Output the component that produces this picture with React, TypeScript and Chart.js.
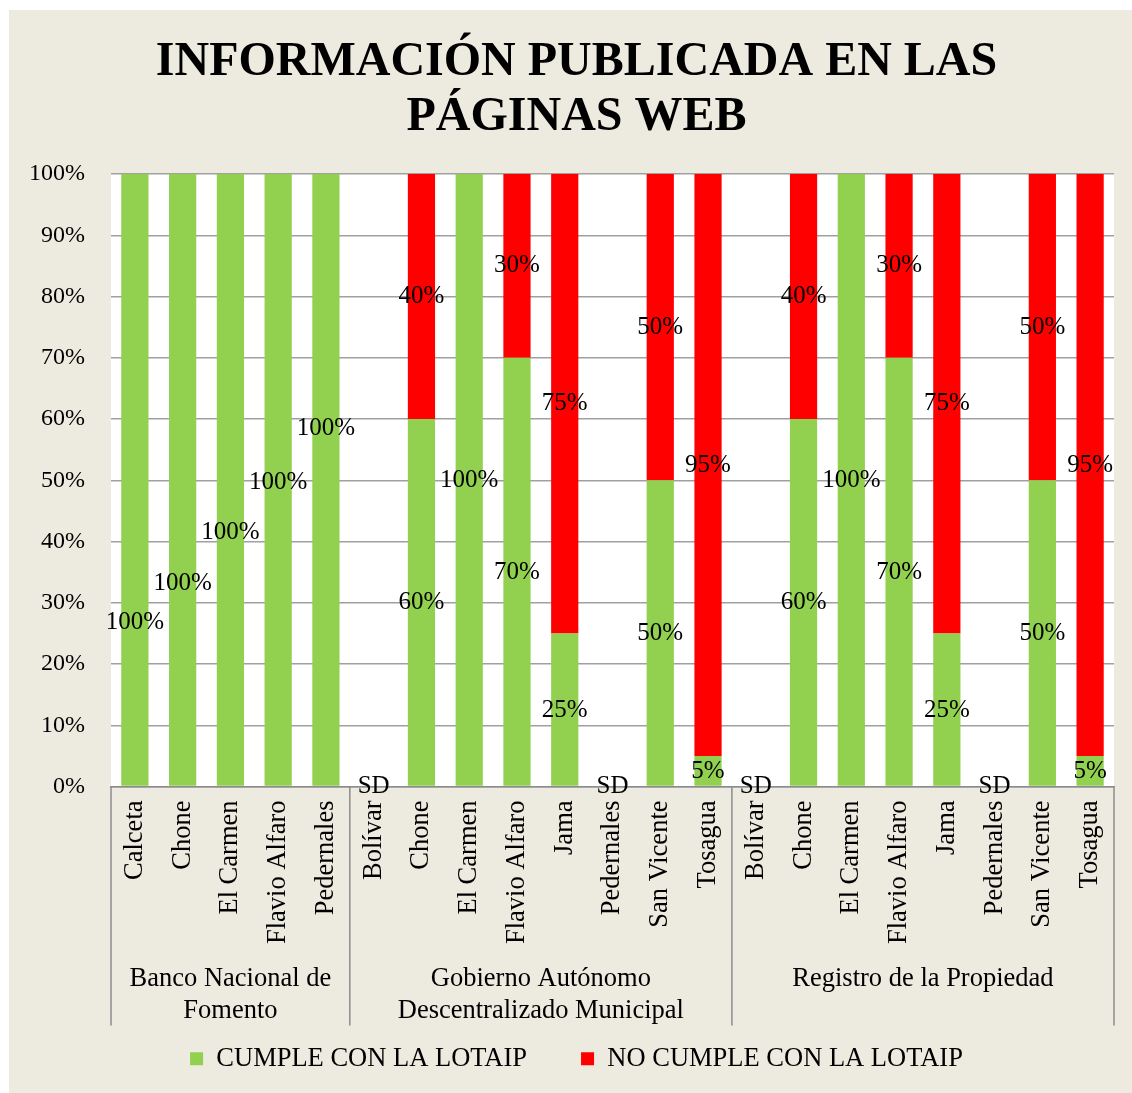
import React, { useEffect, useRef } from "react";
import { Chart, registerables } from "chart.js";

Chart.register(...registerables);

const categories = [
  "Calceta", "Chone", "El Carmen", "Flavio Alfaro", "Pedernales",
  "Bolívar", "Chone", "El Carmen", "Flavio Alfaro", "Jama", "Pedernales", "San Vicente", "Tosagua",
  "Bolívar", "Chone", "El Carmen", "Flavio Alfaro", "Jama", "Pedernales", "San Vicente", "Tosagua",
];
const groupLabels = [
  ["Banco Nacional de", "Fomento"],
  ["Gobierno Autónomo", "Descentralizado Municipal"],
  ["Registro de la Propiedad"],
];
const groupSizes = [5, 8, 8];

const cumple: (number | null)[] = [
  100, 100, 100, 100, 100,
  null, 60, 100, 70, 25, null, 50, 5,
  null, 60, 100, 70, 25, null, 50, 5,
];
const noCumple: (number | null)[] = [
  0, 0, 0, 0, 0,
  null, 40, 0, 30, 75, null, 50, 95,
  null, 40, 0, 30, 75, null, 50, 95,
];
// where the "cumple" labels sit (value on the y scale); null = centre of segment
const cumpleLabelAt: (number | null)[] = [
  26.8, 33.2, 41.5, 49.7, 58.5,
  null, null, null, null, null, null, null, null,
  null, null, null, null, null, null, null, null,
];
const noDataText = "SD";
const seriesNames = ["CUMPLE CON LA LOTAIP", "NO CUMPLE CON LA LOTAIP"];
const titleLines = ["INFORMACIÓN PUBLICADA EN LAS", "PÁGINAS WEB"];
const yTicks = [0, 10, 20, 30, 40, 50, 60, 70, 80, 90, 100];

const SERIF = '"Liberation Serif", "Times New Roman", serif';
const GREEN = "#92D050";
const RED = "#FF0000";
const GRID = "#A0A0A0";

const plotBg = {
  id: "plotBg",
  beforeDraw(chart: any) {
    const { ctx, chartArea } = chart;
    ctx.save();
    ctx.fillStyle = "#FFFFFF";
    ctx.fillRect(chartArea.left, chartArea.top, chartArea.right - chartArea.left, chartArea.bottom - chartArea.top);
    ctx.restore();
  },
};

const labelsPlugin = {
  id: "barLabels",
  afterDatasetsDraw(chart: any) {
    const { ctx } = chart;
    const xs = chart.scales.x;
    const ys = chart.scales.y;
    ctx.save();
    ctx.font = `25px ${SERIF}`;
    ctx.fillStyle = "#000";
    ctx.textAlign = "center";
    ctx.textBaseline = "middle";
    categories.forEach((_, i) => {
      const px = xs.getPixelForValue(i);
      const c = cumple[i];
      const n = noCumple[i];
      if (c === null && n === null) {
        ctx.fillText(noDataText, px, ys.getPixelForValue(0));
        return;
      }
      if (c !== null && c > 0) {
        const at = cumpleLabelAt[i] ?? c / 2;
        ctx.fillText(`${c}%`, px, ys.getPixelForValue(at));
      }
      if (n !== null && n > 0) {
        ctx.fillText(`${n}%`, px, ys.getPixelForValue((c ?? 0) + n / 2));
      }
    });
    ctx.restore();
  },
};

const groupsPlugin = {
  id: "groups",
  afterDraw(chart: any) {
    const { ctx, chartArea } = chart;
    const xs = chart.scales.x;
    const half = (xs.getPixelForValue(1) - xs.getPixelForValue(0)) / 2;
    const top = chartArea.bottom;
    const bottom = top + 239;
    ctx.save();
    ctx.strokeStyle = "#8C8C8C";
    ctx.lineWidth = 1.5;
    let start = 0;
    const edges: number[] = [xs.getPixelForValue(0) - half];
    groupSizes.forEach((s) => {
      start += s;
      edges.push(xs.getPixelForValue(start - 1) + half);
    });
    edges.forEach((e) => {
      ctx.beginPath();
      ctx.moveTo(e, top);
      ctx.lineTo(e, bottom);
      ctx.stroke();
    });
    ctx.font = `26.5px ${SERIF}`;
    ctx.fillStyle = "#000";
    ctx.textAlign = "center";
    ctx.textBaseline = "middle";
    groupLabels.forEach((lines, g) => {
      const cx = (edges[g] + edges[g + 1]) / 2;
      lines.forEach((t, k) => {
        ctx.fillText(t, cx, top + 193 + k * 32);
      });
    });
    ctx.restore();
  },
};

export default function App() {
  const ref = useRef<HTMLCanvasElement>(null);
  useEffect(() => {
    if (!ref.current) return;
    const chart = new Chart(ref.current, {
      type: "bar",
      data: {
        labels: categories,
        datasets: [
          { label: seriesNames[0], data: cumple, backgroundColor: GREEN, borderWidth: 0, barPercentage: 0.57, categoryPercentage: 1 },
          { label: seriesNames[1], data: noCumple, backgroundColor: RED, borderWidth: 0, barPercentage: 0.57, categoryPercentage: 1 },
        ],
      },
      options: {
        responsive: false,
        animation: false,
        layout: { padding: { left: 30, right: 18, top: 25, bottom: 11 } },
        plugins: {
          title: {
            display: true,
            text: titleLines,
            color: "#000",
            font: { family: SERIF, size: 48, weight: "bold", lineHeight: 1.146 },
            padding: { top: 0, bottom: 29 },
          },
          legend: {
            position: "bottom",
            labels: {
              color: "#000",
              font: { family: SERIF, size: 26.5 },
              boxWidth: 13,
              boxHeight: 13,
              padding: 54,
            },
          },
          tooltip: { enabled: false },
        },
        scales: {
          x: {
            stacked: true,
            grid: { display: false, drawTicks: false },
            border: { display: true, color: "#8C8C8C", width: 1.5 },
            ticks: {
              autoSkip: false,
              maxRotation: 90,
              minRotation: 90,
              padding: 14,
              color: "#000",
              font: { family: SERIF, size: 26.5 },
            },
            afterFit(scale: any) {
              scale.height = 205;
              scale.paddingLeft = 0;
              scale.paddingRight = 0;
            },
          },
          y: {
            stacked: true,
            min: 0,
            max: 100,
            afterBuildTicks(scale: any) {
              scale.ticks = yTicks.map((v) => ({ value: v }));
            },
            grid: { color: GRID, lineWidth: 1.5, drawTicks: false },
            border: { display: false },
            ticks: {
              padding: 26,
              color: "#000",
              font: { family: SERIF, size: 24 },
              callback: (v: any) => `${v}%`,
            },
            afterFit(scale: any) {
              scale.width = 72;
              scale._computeLabelArea = () => undefined;
            },
          },
        },
      },
      plugins: [plotBg, labelsPlugin, groupsPlugin],
    });
    return () => chart.destroy();
  }, []);
  return (
    <div
      style={{
        position: "absolute",
        left: 9,
        top: 10,
        width: 1123,
        height: 1083,
        background: "#EDEAE0",
      }}
    >
      <canvas ref={ref} width={1123} height={1083} style={{ display: "block" }} />
    </div>
  );
}
